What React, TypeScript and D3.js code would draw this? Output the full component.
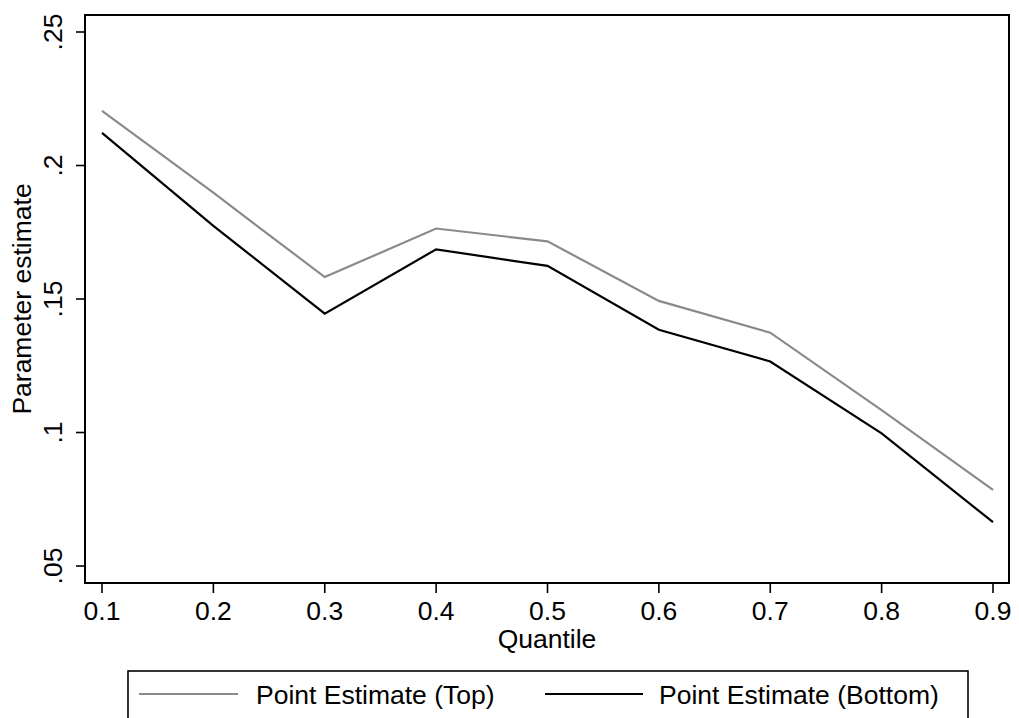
import React from "react";
import * as d3 from "d3";

// Quantiles on the horizontal axis
const quantiles = [0.1, 0.2, 0.3, 0.4, 0.5, 0.6, 0.7, 0.8, 0.9];

// Point estimates for each quantile
const topEstimates = [0.2205, 0.1898, 0.1582, 0.1764, 0.1716, 0.1493, 0.1374, 0.1084, 0.0785];
const bottomEstimates = [0.2122, 0.1774, 0.1445, 0.1686, 0.1624, 0.1385, 0.1266, 0.0997, 0.0664];

// Axis tick values and their labels
const xTicks = [0.1, 0.2, 0.3, 0.4, 0.5, 0.6, 0.7, 0.8, 0.9];
const xTickLabels = ["0.1", "0.2", "0.3", "0.4", "0.5", "0.6", "0.7", "0.8", "0.9"];
const yTicks = [0.05, 0.1, 0.15, 0.2, 0.25];
const yTickLabels = [".05", ".1", ".15", ".2", ".25"];

const seriesNames = ["Point Estimate (Top)", "Point Estimate (Bottom)"];

const W = 1019;
const H = 718;
const FONT = "'Liberation Sans', Arial, Helvetica, sans-serif";

export default function App() {
  const frame = { left: 85, right: 1009, top: 15, bottom: 583 };
  const x = d3.scaleLinear().domain([0.1, 0.9]).range([102, 993]);
  const y = d3.scaleLinear().domain([0.05, 0.25]).range([566, 32]);

  const line = d3
    .line<number>()
    .x((_, i) => x(quantiles[i]))
    .y((d) => y(d));

  const grey = "#8a8a8a";
  const fontSize = 26.5;

  return (
    <svg
      width={W}
      height={H}
      style={{ position: "fixed", left: 0, top: 0, background: "#fff" }}
      fontFamily={FONT}
    >
      <rect x={0} y={0} width={W} height={H} fill="#fff" />

      {/* series */}
      <path d={line(topEstimates) ?? ""} fill="none" stroke={grey} strokeWidth={2.2} />
      <path d={line(bottomEstimates) ?? ""} fill="none" stroke="#000" strokeWidth={2.2} />

      {/* plot frame */}
      <rect
        x={frame.left}
        y={frame.top}
        width={frame.right - frame.left}
        height={frame.bottom - frame.top}
        fill="none"
        stroke="#000"
        strokeWidth={2}
      />

      {/* y axis */}
      {yTicks.map((t, i) => (
        <g key={`y${i}`}>
          <line x1={frame.left - 9} x2={frame.left} y1={y(t)} y2={y(t)} stroke="#000" strokeWidth={1.6} />
          <text
            transform={`translate(62,${y(t)}) rotate(-90)`}
            textAnchor="middle"
            fontSize={fontSize}
            fill="#000"
          >
            {yTickLabels[i]}
          </text>
        </g>
      ))}
      <text
        transform={`translate(31,${(frame.top + frame.bottom) / 2}) rotate(-90)`}
        textAnchor="middle"
        fontSize={fontSize}
        fill="#000"
      >
        Parameter estimate
      </text>

      {/* x axis */}
      {xTicks.map((t, i) => (
        <g key={`x${i}`}>
          <line x1={x(t)} x2={x(t)} y1={frame.bottom} y2={frame.bottom + 10} stroke="#000" strokeWidth={1.6} />
          <text x={x(t)} y={620} textAnchor="middle" fontSize={fontSize} fill="#000">
            {xTickLabels[i]}
          </text>
        </g>
      ))}
      <text x={(frame.left + frame.right) / 2} y={648} textAnchor="middle" fontSize={fontSize} fill="#000">
        Quantile
      </text>

      {/* legend */}
      <rect x={128} y={671} width={840} height={70} fill="none" stroke="#000" strokeWidth={1.6} />
      <line x1={139} x2={238} y1={694} y2={694} stroke={grey} strokeWidth={2.2} />
      <text x={256} y={704} fontSize={fontSize} fill="#000">
        {seriesNames[0]}
      </text>
      <line x1={545} x2={643} y1={694} y2={694} stroke="#000" strokeWidth={2.2} />
      <text x={659} y={704} fontSize={fontSize} fill="#000">
        {seriesNames[1]}
      </text>
    </svg>
  );
}
